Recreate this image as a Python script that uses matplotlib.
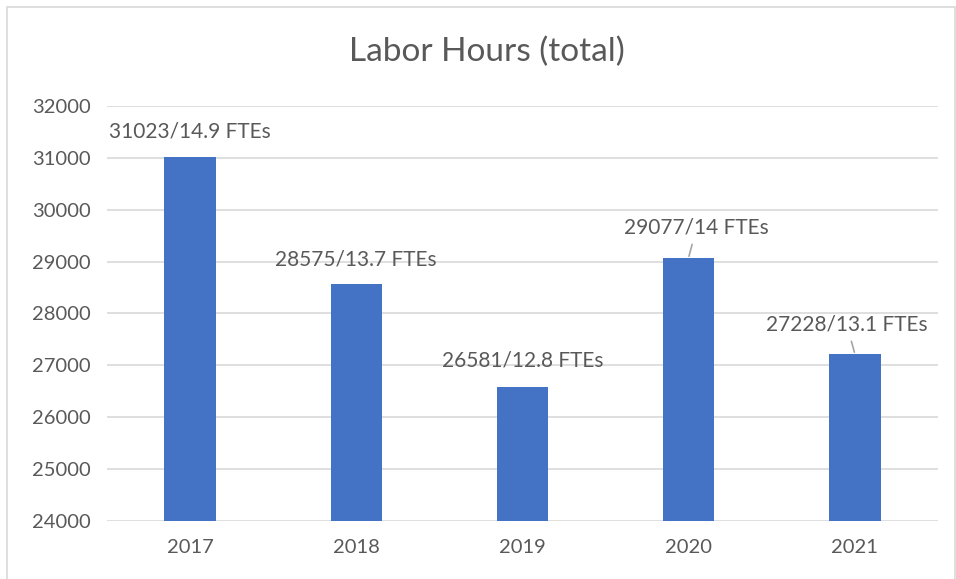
import matplotlib.pyplot as plt
from matplotlib.patches import Rectangle

years = ["2017", "2018", "2019", "2020", "2021"]
hours = [31023, 28575, 26581, 29077, 27228]
labels = ["31023/14.9 FTEs", "28575/13.7 FTEs", "26581/12.8 FTEs",
          "29077/14 FTEs", "27228/13.1 FTEs"]
yticks = [24000, 25000, 26000, 27000, 28000, 29000, 30000, 31000, 32000]

plt.rcParams['font.family'] = ['Lato', 'DejaVu Sans']
txt = '#595959'

fig = plt.figure(figsize=(9.56, 5.79), dpi=100)
ax = fig.add_axes([0.112, 0.1002, 0.869, 0.7168])

x = range(len(years))
ax.bar(x, hours, width=0.31, color='#4472C4', bottom=0, zorder=3)
ax.set_ylim(24000, 32000)
ax.set_xlim(-0.5, 4.5)
ax.set_yticks(yticks)
ax.set_yticklabels([str(t) for t in yticks])
ax.set_xticks(list(x))
ax.set_xticklabels(years)
ax.tick_params(axis='both', length=0, labelsize=14.5, colors=txt)
ax.tick_params(axis='x', pad=13)
ax.tick_params(axis='y', pad=12)
ax.grid(axis='y', color='#D9D9D9', lw=1.2, zorder=0)
for s in ax.spines.values():
    s.set_visible(False)

# label offsets in pixels (dx, dy) and whether there is a leader line
offs = [(0, 25), (0, 24), (0, 27), (8, 30), (-8, 29)]
leader = [False, False, False, True, True]
for i, (h, lab) in enumerate(zip(hours, labels)):
    dx, dy = offs[i]
    if leader[i]:
        ax.annotate(lab, xy=(i, h), xytext=(dx, dy), textcoords='offset pixels',
                    ha='center', va='center', fontsize=15, color=txt,
                    arrowprops=dict(arrowstyle='-', color='#A6A6A6', lw=1.2,
                                    shrinkA=3, shrinkB=1))
    else:
        ax.annotate(lab, xy=(i, h), xytext=(dx, dy), textcoords='offset pixels',
                    ha='center', va='center', fontsize=15, color=txt)

fig.text(0.509, 0.91, "Labor Hours (total)", ha='center', va='center',
         fontsize=24, color=txt)

fig.patches.append(Rectangle((7 / 956, -0.05), 0.999 - 7 / 956, 1.05 - 7 / 579,
                             transform=fig.transFigure, fill=False,
                             edgecolor='#D9D9D9', lw=1.2))

fig.savefig('out.png', dpi=100)
